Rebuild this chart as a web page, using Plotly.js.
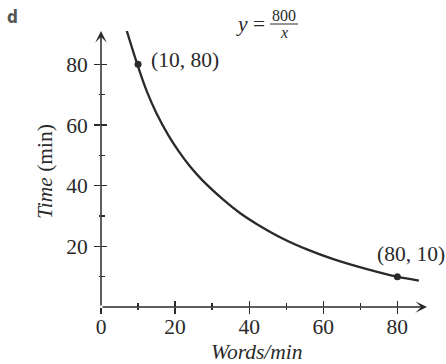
<!DOCTYPE html>
<html>
<head>
<meta charset="utf-8">
<script src="https://cdn.plot.ly/plotly-3.0.1.min.js"></script>
<style>html,body{margin:0;padding:0;background:#fff;}#chart{width:446px;height:364px;}</style>
</head>
<body>
<div id="chart"></div>
<script>
// Curve
const curveX = [6.9, 9.8, 12.4, 15, 18.2, 21, 24, 27.2, 33, 37.5, 42, 49, 55.6, 62.7, 71.8, 79.9, 85.8];
const curveY = [91.3, 80, 71, 63.8, 56.6, 51.3, 46.4, 42, 35.4, 31, 27.4, 22.6, 19, 15.8, 12.5, 10, 8.7];
// Labelled points
const pointX = [10, 80];
const pointY = [80, 10];
const pointLabels = ["(10, 80)", "(80, 10)"];
// Axes
const xTicks = [0, 20, 40, 60, 80];
const xMinor = [10, 30, 50, 70];
const yTicks = [20, 40, 60, 80];
const yMinor = [10, 30, 50, 70];
const xMax = 88, yMax = 91;

const ink = '#2a2a2a';
const serif = 'Liberation Serif, Times New Roman, serif';
const fs = 21.5;

const traces = [
  {x: curveX, y: curveY, mode: 'lines', line: {color: ink, width: 2.3, shape: 'spline', smoothing: 1}, cliponaxis: false, hoverinfo: 'skip'},
  {x: pointX, y: pointY, mode: 'markers', marker: {color: ink, size: 7}, cliponaxis: false, hoverinfo: 'skip'},
  {x: [], y: [], xaxis: 'x2', yaxis: 'y2', hoverinfo: 'skip'}
];

const axBase = {showgrid: false, zeroline: false, showline: false, tickcolor: ink, tickwidth: 1.3,
  tickfont: {family: serif, size: fs, color: ink}, tickmode: 'array'};

const W = 326, H = 276, L = 101, T = 31;
const px = v => (v - L) / W;          // page px -> paper x
const py = v => 1 - (v - T) / H;      // page px -> paper y

const layout = {
  width: 446, height: 364, showlegend: false,
  paper_bgcolor: '#fff', plot_bgcolor: '#fff',
  margin: {l: L, r: 446 - L - W, t: T, b: 364 - T - H},
  xaxis: Object.assign({}, axBase, {range: [0, xMax], tickvals: xTicks, ticktext: xTicks.map(String),
    ticks: 'outside', ticklen: 6, ticklabelstandoff: -6,
    minor: {tickvals: xMinor, ticks: 'outside', ticklen: 2, tickcolor: ink, tickwidth: 1.3}}),
  yaxis: Object.assign({}, axBase, {range: [0, yMax], tickvals: yTicks, ticktext: yTicks.map(String),
    ticks: 'outside', ticklen: 6, ticklabelstandoff: 2,
    minor: {tickvals: yMinor, ticks: 'outside', ticklen: 1, tickcolor: ink, tickwidth: 1.3}}),
  xaxis2: Object.assign({}, axBase, {matches: 'x', overlaying: 'x', anchor: 'y2', side: 'bottom',
    tickvals: xTicks, ticks: 'inside', ticklen: 6, showticklabels: false,
    minor: {tickvals: xMinor, ticks: 'inside', ticklen: 4, tickcolor: ink, tickwidth: 1.3}}),
  yaxis2: Object.assign({}, axBase, {matches: 'y', overlaying: 'y', anchor: 'x2', side: 'left',
    tickvals: yTicks, ticks: 'inside', ticklen: 6, showticklabels: false,
    minor: {tickvals: yMinor, ticks: 'inside', ticklen: 4, tickcolor: ink, tickwidth: 1.3}}),
  annotations: [
    // axis arrows
    {x: xMax, y: 0, ax: 0, ay: 0, axref: 'x', ayref: 'y', xref: 'x', yref: 'y', text: '',
      showarrow: true, arrowhead: 3, arrowsize: 1.3, arrowwidth: 1.5, arrowcolor: ink, standoff: 0},
    {x: 0, y: yMax, ax: 0, ay: 0, axref: 'x', ayref: 'y', xref: 'x', yref: 'y', text: '',
      showarrow: true, arrowhead: 3, arrowsize: 1.3, arrowwidth: 1.5, arrowcolor: ink, standoff: 0},
    // point labels
    {x: pointX[0], y: pointY[0], xref: 'x', yref: 'y', text: pointLabels[0], showarrow: false,
      xanchor: 'left', yanchor: 'middle', xshift: 11, yshift: 4, font: {family: serif, size: fs, color: ink}},
    {x: pointX[1], y: pointY[1], xref: 'x', yref: 'y', text: pointLabels[1], showarrow: false,
      xanchor: 'center', yanchor: 'middle', xshift: 14, yshift: 23, font: {family: serif, size: fs, color: ink}},
    // axis titles
    {xref: 'paper', yref: 'paper', x: px(256.7), y: py(352), text: '<i>Words/min</i>', showarrow: false,
      xanchor: 'center', yanchor: 'middle', font: {family: serif, size: fs, color: ink}},
    {xref: 'paper', yref: 'paper', x: px(45), y: py(172), text: '<i>Time</i> (min)', showarrow: false,
      textangle: -90, xanchor: 'center', yanchor: 'middle', font: {family: serif, size: fs, color: ink}},
    // equation
    {xref: 'paper', yref: 'paper', x: px(250), y: py(24), text: '<i>y</i> =',
      showarrow: false, xanchor: 'center', yanchor: 'middle', font: {family: serif, size: fs, color: ink}},
    {xref: 'paper', yref: 'paper', x: px(284), y: py(15.5), text: '800',
      showarrow: false, xanchor: 'center', yanchor: 'middle', font: {family: serif, size: 16, color: ink}},
    {xref: 'paper', yref: 'paper', x: px(284), y: py(32), text: '<i>x</i>',
      showarrow: false, xanchor: 'center', yanchor: 'middle', font: {family: serif, size: 16, color: ink}},
    // panel letter
    {xref: 'paper', yref: 'paper', x: px(12.5), y: py(16.5), text: '<b>d</b>',
      showarrow: false, xanchor: 'center', yanchor: 'middle', font: {family: 'DejaVu Sans Condensed, DejaVu Sans', size: 17, color: '#555'}}
  ],
  shapes: [
    {type: 'line', xref: 'paper', yref: 'paper', x0: px(270), x1: px(298),
      y0: py(24), y1: py(24), line: {color: ink, width: 1}}
  ]
};

Plotly.newPlot('chart', traces, layout, {staticPlot: true, displayModeBar: false});
</script>
</body>
</html>
